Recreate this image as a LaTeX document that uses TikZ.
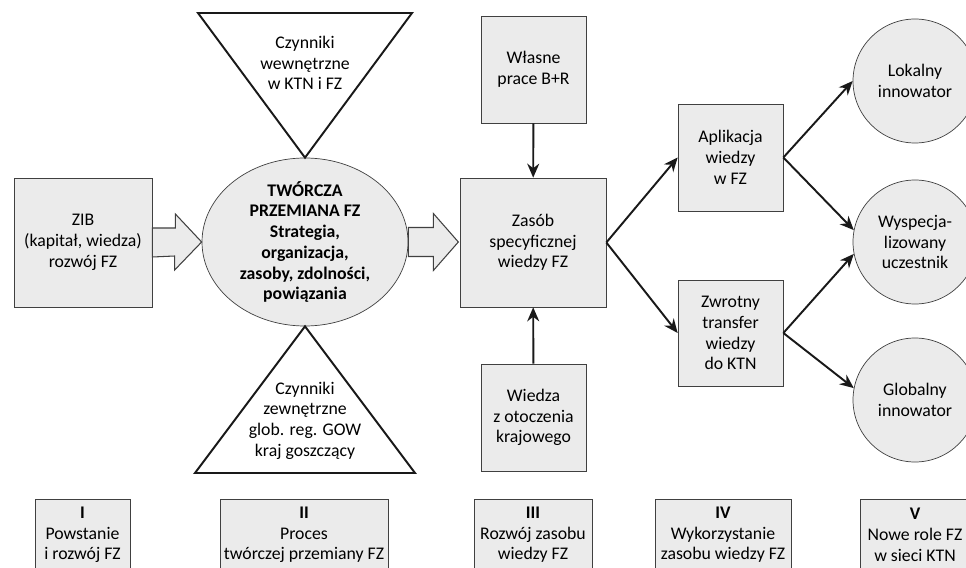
\documentclass[tikz,border=0pt]{standalone}
\usepackage{fontspec}
\setmainfont{Carlito}
\usetikzlibrary{arrows.meta,shapes.geometric}

\begin{document}
\begin{tikzpicture}[
    font=\fontsize{10.1}{11.8}\selectfont,
    box/.style={rectangle, draw=black!75, fill=gray!16, align=center, minimum width=#1, minimum height=2.14cm, inner sep=2pt},
    stage box/.style={box=#1, minimum height=1.42cm, anchor=north},
    role node/.style={circle, draw=black!75, fill=gray!16, align=center, minimum size=2.48cm, inner sep=1pt},
    core node/.style={ellipse, draw=black!75, fill=gray!16, minimum width=4.12cm, minimum height=3.36cm, inner sep=0pt},
    factor/.style={draw=black!90, line width=1.1pt, fill=white, line join=miter},
    link/.style={-{Stealth[length=2.8mm,width=2.4mm]}, line width=1.1pt, black!90},
    fat arrow/.style={draw=black!75, fill=gray!16, line width=0.6pt}
]

\clip (0,0) rectangle (19.32,11.34);

% Creative transformation
\node[core node] (twor) at (6.1,6.5) {};
\node[align=center, font=\fontsize{10.1}{11.8}\selectfont\bfseries] (twortext) at (twor) {TWÓRCZA\\PRZEMIANA FZ\\Strategia,\\organizacja,\\zasoby, zdolności,\\powiązania};

% Factors
\draw[factor] (3.96,11.08) -- (8.24,11.08) -- (twor.north) -- cycle;
\node[align=center] (inner) at (6.1,10.08) {Czynniki\\wewnętrzne\\w KTN i FZ};
\draw[factor] (twor.south) -- (8.3,1.88) -- (3.9,1.88) -- cycle;
\node[align=center] (outer) at (6.1,2.93) {Czynniki\\zewnętrzne\\glob. reg. GOW\\kraj goszczący};

% Knowledge stock
\node[box=2.76cm, minimum height=2.58cm] (zib) at (1.66,6.49) {ZIB\\(kapitał, wiedza)\\rozwój FZ};
\node[box=2.92cm, minimum height=2.58cm] (zas) at (10.66,6.49) {Zasób\\specyficznej\\wiedzy FZ};
\node[box=2.1cm] (wla) at (10.67,9.95) {Własne\\prace B+R};
\node[box=2.1cm] (wie) at (10.67,2.99) {Wiedza\\z otoczenia\\krajowego};
\node[box=2.1cm] (apl) at (14.61,8.19) {Aplikacja\\wiedzy\\w FZ};
\node[box=2.1cm, minimum height=2.12cm] (zwr) at (14.61,4.68) {Zwrotny\\transfer\\wiedzy\\do KTN};

% Roles
\node[role node] (lok) at (18.3,9.72) {Lokalny\\innowator};
\node[role node] (wys) at (18.3,6.5) {Wyspecja-\\lizowany\\uczestnik};
\node[role node] (glo) at (18.3,3.34) {Globalny\\innowator};

% Block arrows
\draw[fat arrow] ([yshift=2.9mm]zib.east) -- ++(0.46,0) -- ++(0,0.28) -- (twor.west) -- ++(-0.54,-0.56) -- ++(0,0.28) -- ([yshift=-2.9mm]zib.east) -- cycle;
\draw[fat arrow] ([yshift=2.9mm]twor.east) -- ++(0.5,0) -- ++(0,0.28) -- ++(0.5,-0.57) -- ++(-0.5,-0.57) -- ++(0,0.28) -- ([yshift=-2.9mm]twor.east) -- cycle;

% Links
\draw[link] (wla) -- (zas);
\draw[link] (wie) -- (zas);
\draw[link] (zas.east) -- (apl.west);
\draw[link] (zas.east) -- (zwr.west);
\draw[link] (apl.east) -- (lok.west);
\draw[link] (apl.east) -- (wys.169);
\draw[link] (zwr.east) -- (wys.191);
\draw[link] (zwr.east) -- (glo.169);

% Stages
\node[stage box=1.9cm] (s1) at (1.65,1.36) {\textbf{I}\\Powstanie\\i rozwój FZ};
\node[stage box=3.36cm] (s2) at (6.08,1.36) {\textbf{II}\\Proces\\twórczej przemiany FZ};
\node[stage box=2.36cm] (s3) at (10.66,1.36) {\textbf{III}\\Rozwój zasobu\\wiedzy FZ};
\node[stage box=2.72cm] (s4) at (14.46,1.36) {\textbf{IV}\\Wykorzystanie\\zasobu wiedzy FZ};
\node[stage box=2.2cm] (s5) at (18.3,1.36) {\textbf{V}\\Nowe role FZ\\w sieci KTN};

\end{tikzpicture}
\end{document}
